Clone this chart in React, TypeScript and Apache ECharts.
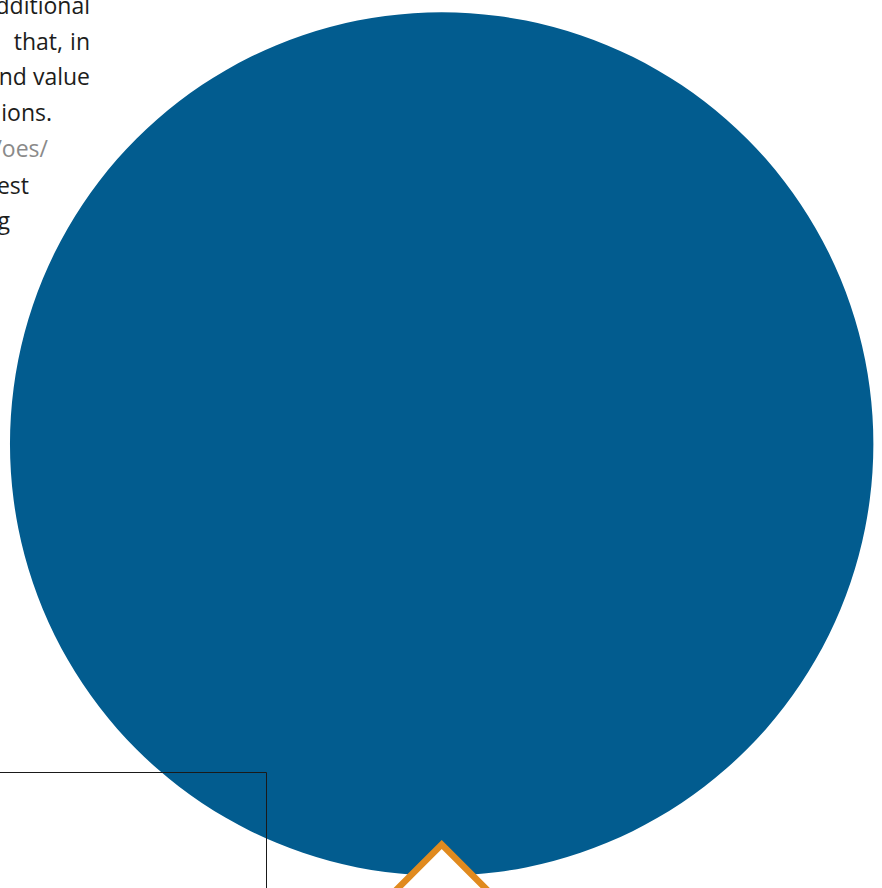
import React, { useEffect, useRef } from "react";
import * as echarts from "echarts";

// Text fragments visible at the top-left (right edge x, baseline y, colour kind)
const textLines: string[] = ["dditional", "that,", "in", "nd value", "ions.", "/oes/", "est", "g"];
const textRight: number[] = [90, 63, 90, 90, 52, 48, 29, 10];
const textBaseline: number[] = [12, 47.5, 47.5, 83, 119, 155, 191.5, 227];
const textMuted: boolean[] = [false, false, false, false, false, true, false, false];

// Single-slice pie forming the big circle
const circleNames: string[] = ["total"];
const circleValues: number[] = [100];

const BLUE = "#025C8F";
const ORANGE = "#E08A1E";
const FONT_SIZE = 23;

export default function App() {
  const ref = useRef<HTMLDivElement>(null);
  useEffect(() => {
    document.body.style.margin = "0";
    if (!ref.current) return;
    const chart = echarts.init(ref.current, undefined, { renderer: "svg" });
    const texts = textLines.map((t, i) => ({
      type: "text",
      z: 110,
      silent: true,
      style: {
        text: t,
        x: textRight[i],
        y: textBaseline[i] - 7,
        align: "right",
        verticalAlign: "middle",
        fill: textMuted[i] ? "#8A8A8A" : "#1D1D1B",
        font: `${FONT_SIZE}px "Open Sans", sans-serif`,
      },
    }));
    chart.setOption({
      animation: false,
      backgroundColor: "#ffffff",
      series: [
        {
          type: "pie",
          silent: true,
          center: [441.7, 444],
          radius: [0, 431.7],
          label: { show: false },
          labelLine: { show: false },
          itemStyle: { color: BLUE, borderWidth: 0 },
          data: circleNames.map((n, i) => ({ name: n, value: circleValues[i] })),
        },
      ],
      graphic: [
        ...texts,
        {
          type: "rect",
          z: 100,
          silent: true,
          shape: { x: -20, y: 772.5, width: 286.5, height: 200 },
          style: { fill: "none", stroke: "#1a1a1a", lineWidth: 1 },
        },
        {
          type: "polygon",
          z: 105,
          silent: true,
          shape: {
            points: [
              [441.7, 844.5],
              [541.7, 944.5],
              [441.7, 1044.5],
              [341.7, 944.5],
            ],
          },
          style: { fill: "#ffffff", stroke: ORANGE, lineWidth: 6.5, lineJoin: "miter" },
        },
      ],
    });
    return () => chart.dispose();
  }, []);
  return (
    <div
      ref={ref}
      style={{ position: "absolute", left: 0, top: 0, width: 882, height: 888 }}
    />
  );
}
